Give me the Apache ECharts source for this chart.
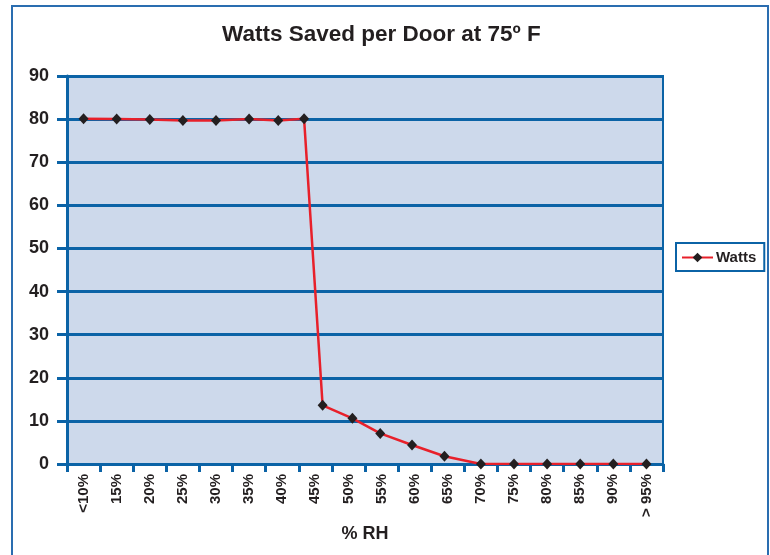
<!DOCTYPE html>
<html>
<head>
<meta charset="utf-8">
<script src="https://cdn.jsdelivr.net/npm/echarts@6/dist/echarts.min.js"></script>
<style>
html,body{margin:0;padding:0;background:#fff;}
#chart{width:770px;height:555px;}
</style>
</head>
<body>
<div id="chart"></div>
<script>
// Category tick labels along the % RH axis
var categories = ['<10%','15%','20%','25%','30%','35%','40%','45%','50%','55%','60%','65%','70%','75%','80%','85%','90%','> 95%'];
// %RH position of each plotted point (points are not all on category centres)
var rhValues = [10, 15, 20, 25, 30, 35, 39.4, 43.3, 46.1, 50.6, 54.8, 59.6, 64.5, 70, 75, 80, 85, 90, 95];
// Watts saved at each point
var watts = [80.1, 80.0, 79.9, 79.7, 79.7, 80.0, 79.7, 80.1, 13.6, 10.6, 7.1, 4.4, 1.8, 0, 0, 0, 0, 0, 0];

var seriesData = rhValues.map(function (x, i) { return [x, watts[i]]; });

var blue = '#0b63a6';
var font = "'Liberation Sans', Arial, sans-serif";
var txt = '#231f20';

var chart = echarts.init(document.getElementById('chart'));
chart.setOption({
  backgroundColor: '#ffffff',
  animation: false,
  title: {
    text: 'Watts Saved per Door at 75º F',
    left: 217,
    top: 18,
    textStyle: { fontFamily: font, fontSize: 22.5, fontWeight: 'bold', color: txt }
  },
  graphic: [{
    type: 'rect',
    shape: { x: 12, y: 6, width: 756, height: 570 },
    style: { fill: 'none', stroke: '#2a6db0', lineWidth: 2 },
    silent: true
  }],
  legend: {
    left: 676,
    top: 243,
    data: ['Watts'],
    orient: 'vertical',
    backgroundColor: '#ffffff',
    borderColor: blue,
    borderWidth: 2,
    borderRadius: 0,
    padding: [7, 8, 6, 5],
    itemWidth: 31,
    itemHeight: 12,
    textStyle: { fontFamily: font, fontSize: 15, fontWeight: 'bold', color: txt, padding: [0, 0, 0, -2] }
  },
  grid: {
    left: 67, right: 107, top: 76, bottom: 91,
    show: true,
    backgroundColor: '#cdd9eb',
    borderColor: blue,
    borderWidth: 2,
    containLabel: false
  },
  xAxis: [{
    type: 'category',
    data: categories,
    boundaryGap: true,
    position: 'bottom',
    name: '% RH',
    nameLocation: 'middle',
    nameGap: 58,
    nameTextStyle: { fontFamily: font, fontSize: 18, fontWeight: 'bold', color: txt },
    axisLine: { lineStyle: { color: blue, width: 3 } },
    axisTick: { show: true, length: 8, lineStyle: { color: blue, width: 3 }, alignWithLabel: false },
    axisLabel: { rotate: 90, margin: 10, interval: 0, fontFamily: font, fontSize: 15, fontWeight: 'bold', color: txt },
    splitLine: { show: false }
  }, {
    type: 'value',
    min: 7.5,
    max: 97.5,
    show: false,
    position: 'bottom'
  }],
  yAxis: {
    type: 'value',
    min: 0,
    max: 90,
    interval: 10,
    axisLine: { show: true, lineStyle: { color: blue, width: 3 } },
    axisTick: { show: true, length: 10, lineStyle: { color: blue, width: 3 } },
    axisLabel: { margin: 18, fontFamily: font, fontSize: 18, fontWeight: 'bold', color: txt },
    splitLine: { show: true, lineStyle: { color: blue, width: 3 } }
  },
  series: [{
    name: 'Watts',
    type: 'line',
    xAxisIndex: 1,
    data: seriesData,
    symbol: 'diamond',
    symbolSize: [10, 11],
    showAllSymbol: true,
    lineStyle: { color: '#e8202a', width: 2.5 },
    itemStyle: { color: '#231f20' },
    z: 5
  }]
});
</script>
</body>
</html>
